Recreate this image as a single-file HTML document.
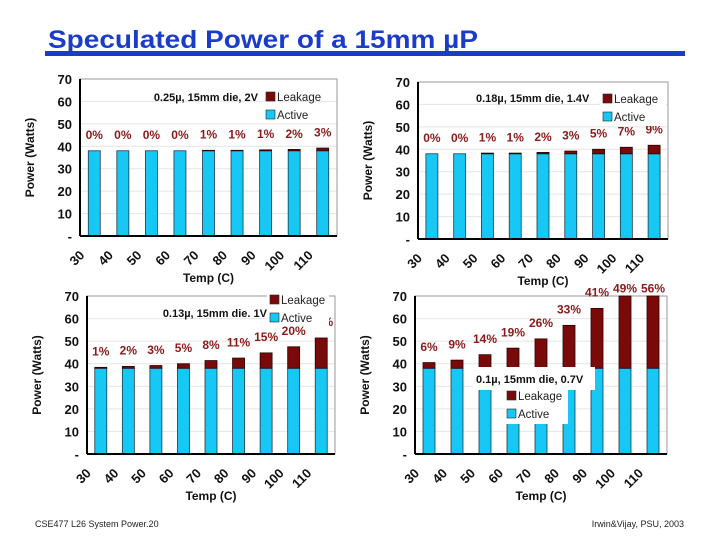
<!DOCTYPE html>
<html><head><meta charset="utf-8">
<style>
body{margin:0;background:#fff;}
#slide{position:relative;width:720px;height:540px;overflow:hidden;background:#fff;font-family:"Liberation Sans",Arial,sans-serif;}
svg text{font-family:"Liberation Sans",Arial,sans-serif;}
</style></head>
<body>
<div id="slide">
<svg id="svg" width="720" height="540" viewBox="0 0 720 540">
  <text x="48" y="48" font-size="25" font-weight="bold" fill="#1a3cc8" textLength="430" lengthAdjust="spacingAndGlyphs">Speculated Power of a 15mm µP</text>
  <rect x="45" y="51" width="640" height="5" fill="#1a3cc8"/>
  <text x="35" y="527" font-size="9" fill="#222">CSE477 L26 System Power.20</text>
  <text x="684" y="527" font-size="9" fill="#222" text-anchor="end">Irwin&amp;Vijay, PSU, 2003</text>
</svg>
</div>
<script>
const categories = ["30","40","50","60","70","80","90","100","110"];
const yTicks = [0,10,20,30,40,50,60,70];
const yTickLabels = ["-","10","20","30","40","50","60","70"];
const active1 = [38,38,38,38,38,38,38,38,38];
const leak1 = [0,0,0,0,0.2,0.2,0.4,0.6,1.2];
const pct1 = ["0%","0%","0%","0%","1%","1%","1%","2%","3%"];
const active2 = [38,38,38,38,38,38,38,38,38];
const leak2 = [0,0,0.3,0.3,0.6,1.2,2,2.9,3.8];
const pct2 = ["0%","0%","1%","1%","2%","3%","5%","7%","9%"];
const active3 = [38,38,38,38,38,38,38,38,38];
const leak3 = [0.4,0.8,1.2,2,3.4,4.5,6.8,9.5,13.4];
const pct3 = ["1%","2%","3%","5%","8%","11%","15%","20%","26%"];
const active4 = [38,38,38,38,38,38,38,38,38];
const leak4 = [2.5,3.6,6,8.9,13,19,26.5,36.5,48.4];
const pct4 = ["6%","9%","14%","19%","26%","33%","41%","49%","56%"];

const NS = "http://www.w3.org/2000/svg";
const svg = document.getElementById('svg');
function mk(tag, attrs, parent, txt){
  const e = document.createElementNS(NS, tag);
  for (const k in attrs) e.setAttribute(k, attrs[k]);
  if (txt !== undefined) e.textContent = txt;
  (parent||svg).appendChild(e);
  return e;
}

function drawChart(id, box, active, leak, pct, legend){
  const g = mk('g', {});
  
  
  const {L,R,T,B} = box;
  const yMax = 70;
  const yS = v => B - (Math.min(v, yMax)/yMax)*(B-T);
  const slot = (R-L)/categories.length;
  const xC = i => L + slot*(i+0.5);
  const bw = 12;
  yTicks.forEach((t,i)=>{
    if (t>0){
      const gl = mk('line',{x1:L,x2:R,y1:yS(t),y2:yS(t),stroke:'#e4e4e4','stroke-width':1},g);
      
      
    }
    const tl = mk('text',{x:L-8,y:yS(t)+5,'font-size':13,'font-weight':'bold','text-anchor':'end',fill:'#111'},g,yTickLabels[i]);
    
    
  });
  const frame = mk('rect',{x:L,y:T,width:R-L,height:B-T,fill:'none',stroke:'#999','stroke-width':1},g);
  
  
  categories.forEach((c,i)=>{
    const cx = xC(i);
    const a = mk('rect',{x:cx-bw/2,y:yS(active[i]),width:bw,height:B-yS(active[i]),fill:'#18c8f4',stroke:'#1a3a4a','stroke-width':0.8},g);
    
    
    if (leak[i]>0){
      const top = yS(active[i]+leak[i]);
      const lk = mk('rect',{x:cx-bw/2,y:top,width:bw,height:yS(active[i])-top,fill:'#7a0a0a',stroke:'#2a0000','stroke-width':0.8},g);
      
      
    }
    const lv = Math.min(active[i]+leak[i]+5.2, 71.5);
    const pl = mk('text',{x:cx,y:yS(0)-(lv/yMax)*(B-T),'font-size':12,'font-weight':'bold','text-anchor':'middle',fill:'#8b1a1a'},g,pct[i]);
    
    
    const xl = mk('text',{x:cx-9,y:B+20,'font-size':13,'font-weight':'bold','text-anchor':'end',fill:'#111',transform:`rotate(-45 ${cx-9} ${B+20})`},g,c);
    
    
  });
  const ax1 = mk('line',{x1:L,x2:L,y1:T,y2:B,stroke:'#000','stroke-width':2},g);
  
  
  const ax2 = mk('line',{x1:L,x2:R,y1:B,y2:B,stroke:'#000','stroke-width':2},g);
  
  
  const xt = mk('text',{x:(L+R)/2,y:B+46,'font-size':12,'font-weight':'bold','text-anchor':'middle',fill:'#111'},g,'Temp (C)');
  
  
  const ytx = L-46, yty=(T+B)/2;
  const yt = mk('text',{x:ytx,y:yty,'font-size':12,'font-weight':'bold','text-anchor':'middle',fill:'#111',transform:`rotate(-90 ${ytx} ${yty})`},g,'Power (Watts)');
  
  
  if (legend.bg){
    const bg = mk('rect',{x:legend.bg[0],y:legend.bg[1],width:legend.bg[2],height:legend.bg[3],fill:'#fff'},g);
    
    
    if (legend.bg2){
      const bg2 = mk('rect',{x:legend.bg2[0],y:legend.bg2[1],width:legend.bg2[2],height:legend.bg2[3],fill:'#fff'},g);
      
      
    }
  }
  const lt = mk('text',{x:legend.tx,y:legend.ty,'font-size':11,'font-weight':'bold','text-anchor':legend.anchor,fill:'#111'},g,legend.title);
  
  
  [['Leakage','#7a0a0a',legend.ly1],['Active','#18c8f4',legend.ly2]].forEach(([n,col,ly])=>{
    const sw = mk('rect',{x:legend.lx,y:ly-9,width:9,height:9,fill:col,stroke:'#222','stroke-width':0.6},g);
    
    
    const tx = mk('text',{x:legend.lx+11,y:ly,'font-size':11.5,fill:'#222'},g,n);
    
    
  });
}

drawChart('chart-025u', {L:80,R:337,T:79,B:236}, active1, leak1, pct1,
  {title:'0.25µ, 15mm die, 2V',tx:258,ty:101,anchor:'end',lx:266,ly1:101,ly2:119});
drawChart('chart-018u', {L:418,R:668,T:82,B:239}, active2, leak2, pct2,
  {title:'0.18µ, 15mm die, 1.4V',tx:476,ty:102,anchor:'start',lx:603,ly1:103,ly2:121,bg:[600,92,66,34]});
drawChart('chart-013u', {L:87,R:335,T:296,B:454}, active3, leak3, pct3,
  {title:'0.13µ, 15mm die. 1V',tx:267,ty:317,anchor:'end',lx:270,ly1:304,ly2:322,bg:[267,290,62,36]});
drawChart('chart-01u', {L:415,R:667,T:296,B:454}, active4, leak4, pct4,
  {title:'0.1µ, 15mm die, 0.7V',tx:476,ty:383,anchor:'start',lx:507,ly1:400,ly2:418,bg:[473,367,122,23],bg2:[505,390,63,34]});
</script>
</body></html>
